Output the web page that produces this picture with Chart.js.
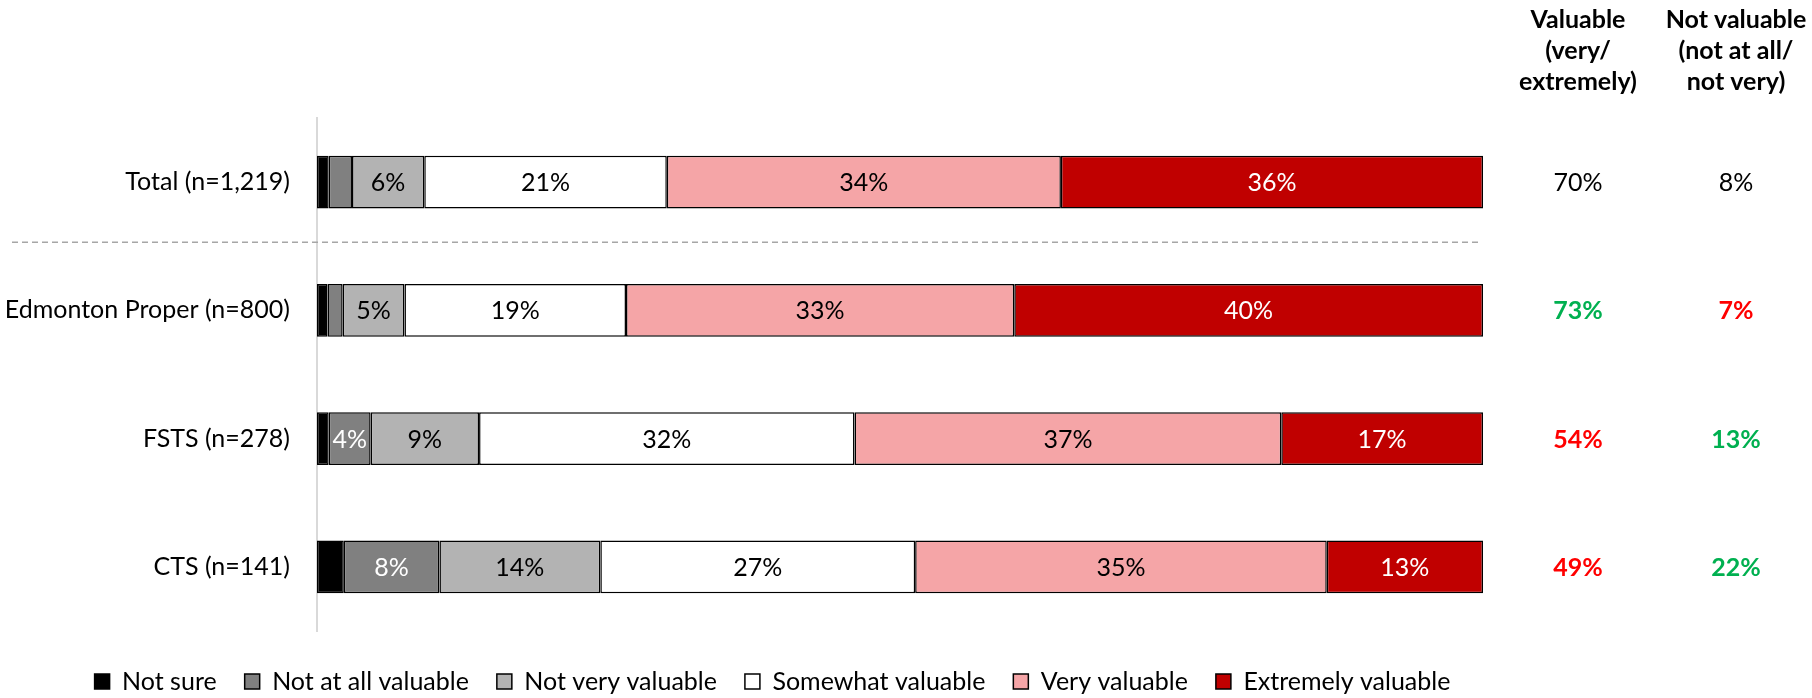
<!DOCTYPE html>
<html>
<head>
<meta charset="utf-8">
<title>Value ratings</title>
<script src="https://cdn.jsdelivr.net/npm/chart.js@4.4.1/dist/chart.umd.min.js"></script>
<style>
    html, body { margin: 0; padding: 0; background: #fff; }
    #chart_wrap { width: 1812px; height: 698px; }
</style>
</head>
<body>
<div id="chart_wrap"><canvas id="value_chart" width="1812" height="698"></canvas></div>
<script>
// ---------------- DATA -----------------
const categories = ["Total (n=1,219)", "Edmonton Proper (n=800)", "FSTS (n=278)", "CTS (n=141)"];
const notSure = [1.0, 0.9, 1.0, 2.3];
const notAtAll = [2.0, 1.3, 3.6, 8.2];
const notVery = [6.2, 5.3, 9.3, 13.8];
const somewhat = [20.8, 19.0, 32.2, 27.0];
const veryValuable = [33.8, 33.3, 36.6, 35.3];
const extremely = [36.2, 40.2, 17.3, 13.4];

// net columns on the right
const valuableNet = [70, 73, 54, 49];
const notValuableNet = [8, 7, 13, 22];
// difference vs. total: 1 = higher, -1 = lower, 0 = none
const valuableSig = [0, 1, -1, -1];
const notValuableSig = [0, -1, 1, 1];
const columnHeads = [
    ["Valuable", "(very/", "extremely)"],
    ["Not valuable", "(not at all/", "not very)"],
];

const FONT = "Lato";
const FS = 25;
Chart.defaults.font.family = FONT;
Chart.defaults.font.size = FS;
Chart.defaults.color = "#000";

// -------------- HELPERS ---------------
const sigColor = (s) => (s > 0 ? "#00b050" : s < 0 ? "#ff0000" : "#000");

const makeSet = (label, data, fill, textColor) => ({
    label,
    data,
    backgroundColor: fill,
    borderColor: "#000",
    borderWidth: 1.5,
    borderSkipped: false,
    barPercentage: 0.41,
    categoryPercentage: 1,
    labelColor: textColor,
});

// percent labels inside segments
const segmentLabels = {
    id: "segmentLabels",
    afterDatasetsDraw(chart) {
        const { ctx } = chart;
        ctx.save();
        ctx.font = `${FS}px ${FONT}`;
        ctx.textAlign = "center";
        ctx.textBaseline = "middle";
        chart.data.datasets.forEach((ds, di) => {
            chart.getDatasetMeta(di).data.forEach((bar, i) => {
                const v = ds.data[i];
                if (v < 3) return;
                const p = bar.getCenterPoint();
                ctx.fillStyle = ds.labelColor;
                ctx.fillText(Math.round(v) + "%", p.x, p.y + 1);
            });
        });
        ctx.restore();
    },
};

// dashed line under the Total row
const totalSeparator = {
    id: "totalSeparator",
    beforeDatasetsDraw(chart) {
        const { ctx, scales } = chart;
        const y = (scales.y.getPixelForValue(0) + scales.y.getPixelForValue(1)) / 2 - 4;
        ctx.save();
        ctx.strokeStyle = "#a6a6a6";
        ctx.lineWidth = 1.5;
        ctx.setLineDash([6, 4]);
        ctx.beginPath();
        ctx.moveTo(12, y);
        ctx.lineTo(chart.chartArea.right - 5, y);
        ctx.stroke();
        ctx.restore();
    },
};

// net columns + headers on the right
const sideColumns = {
    id: "sideColumns",
    afterDraw(chart) {
        const { ctx, scales } = chart;
        const colX = [1578, 1736];
        ctx.save();
        ctx.textAlign = "center";
        ctx.textBaseline = "middle";
        ctx.fillStyle = "#000";
        ctx.font = `bold ${FS}px ${FONT}`;
        columnHeads.forEach((lines, c) => {
            lines.forEach((t, k) => ctx.fillText(t, colX[c], 20 + k * 31));
        });
        const cols = [
            [valuableNet, valuableSig],
            [notValuableNet, notValuableSig],
        ];
        cols.forEach(([vals, sig], c) => {
            vals.forEach((v, i) => {
                const y = scales.y.getPixelForValue(i) + 1;
                ctx.font = (sig[i] ? "bold " : "") + `${FS}px ${FONT}`;
                ctx.fillStyle = sigColor(sig[i]);
                ctx.fillText(v + "%", colX[c], y);
            });
        });
        ctx.restore();
    },
};

// legend sits a little left of centre and lower in the original
const legendPlace = {
    id: "legendPlace",
    afterLayout(chart) {
        const lg = chart.legend;
        if (!lg) return;
        lg.left = 0;
        lg.right = 1545;
        lg.top += 10;
        lg.bottom += 10;
    },
};

// -------------- CHART --------------
const ctx = document.getElementById("value_chart");
new Chart(ctx, {
    type: "bar",
    data: {
        labels: categories,
        datasets: [
            makeSet("Not sure", notSure, "#000000", "#fff"),
            makeSet("Not at all valuable", notAtAll, "#808080", "#fff"),
            makeSet("Not very valuable", notVery, "#b3b3b3", "#000"),
            makeSet("Somewhat valuable", somewhat, "#ffffff", "#000"),
            makeSet("Very valuable", veryValuable, "#f5a5a7", "#000"),
            makeSet("Extremely valuable", extremely, "#c00000", "#fff"),
        ],
    },
    options: {
        indexAxis: "y",
        responsive: false,
        animation: false,
        devicePixelRatio: 1,
        events: [],
        layout: {
            padding: { top: 118, right: 329, bottom: 4, left: 0 },
        },
        scales: {
            x: {
                stacked: true,
                display: false,
                min: 0,
                max: 100,
            },
            y: {
                stacked: true,
                grid: { display: false, drawTicks: false },
                border: { display: true, color: "#d9d9d9", width: 2 },
                ticks: { padding: 27, font: { size: FS }, color: "#000" },
                afterFit: (scale) => {
                    scale.width = 317;
                },
            },
        },
        plugins: {
            tooltip: { enabled: false },
            legend: {
                position: "bottom",
                labels: {
                    boxWidth: 15,
                    boxHeight: 15,
                    padding: 28,
                    font: { size: FS },
                    color: "#000",
                },
            },
        },
    },
    plugins: [totalSeparator, segmentLabels, sideColumns, legendPlace],
});
</script>
</body>
</html>
